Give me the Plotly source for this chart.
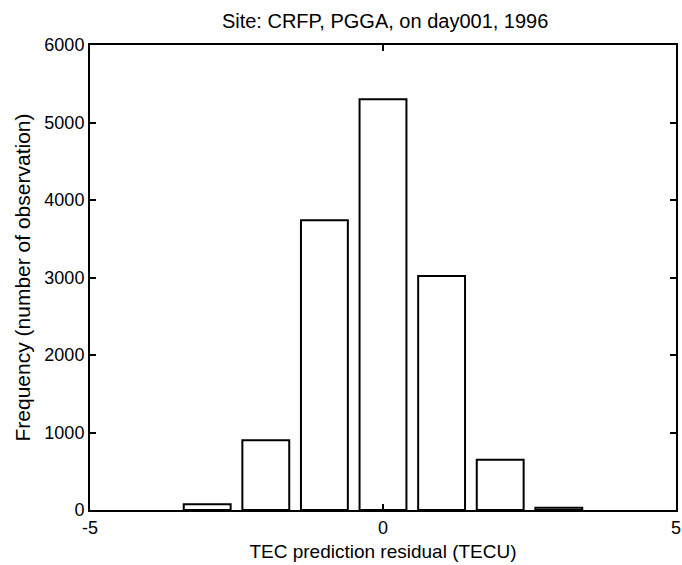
import plotly.graph_objects as go

bin_centers = [-3, -2, -1, 0, 1, 2, 3]
counts = [75, 900, 3740, 5300, 3020, 650, 30]
x_ticks = [-5, 0, 5]
y_ticks = [0, 1000, 2000, 3000, 4000, 5000, 6000]

font = "Liberation Sans, Arial, sans-serif"

fig = go.Figure(go.Bar(
    x=bin_centers, y=counts, width=0.8,
    marker=dict(color="white", line=dict(color="black", width=2)),
))

fig.update_layout(
    width=682, height=565,
    margin=dict(l=90, r=1, t=45, b=55),
    paper_bgcolor="white", plot_bgcolor="white",
    showlegend=False,
    font=dict(family=font, size=18, color="black"),
    title=dict(text="Site: CRFP, PGGA, on day001, 1996", x=0.5647, xanchor="center",
               y=0.962, yanchor="middle", font=dict(size=20)),
)
fig.update_xaxes(
    range=[-5, 5], tickvals=x_ticks, ticktext=[str(v) for v in x_ticks],
    ticks="inside", ticklen=6, tickwidth=1.5, tickcolor="black",
    showline=True, linecolor="black", linewidth=2, mirror="ticks",
    showgrid=False, zeroline=False, ticklabeloverflow="allow",
    tickfont=dict(size=18),
    title=dict(text="TEC prediction residual (TECU)", standoff=8, font=dict(size=19)),
)
fig.update_yaxes(
    range=[0, 6000], tickvals=y_ticks, ticktext=[str(v) for v in y_ticks],
    ticks="inside", ticklen=6, tickwidth=1.5, tickcolor="black",
    showline=True, linecolor="black", linewidth=2, mirror="ticks",
    showgrid=False, zeroline=False,
    tickfont=dict(size=18),
    title=dict(text="Frequency (number of observation)", standoff=8, font=dict(size=21)),
)

fig.write_html("out.html")
